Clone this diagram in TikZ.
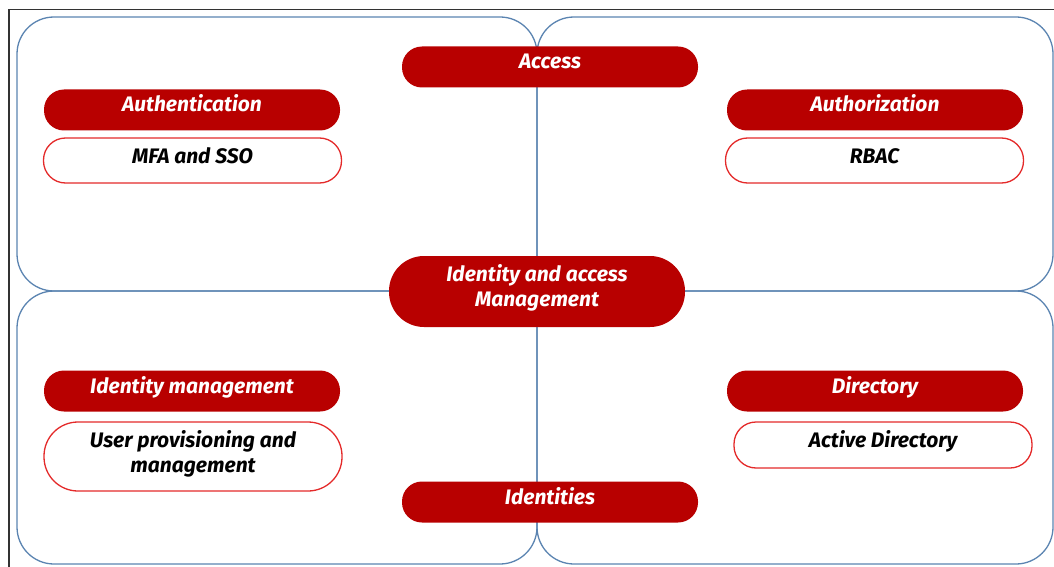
\documentclass[tikz,border=0pt]{standalone}
\usepackage{fontspec}
\setmainfont{Fira Sans}
\usetikzlibrary{positioning}

\definecolor{iamred}{HTML}{B80000}
\definecolor{boxred}{HTML}{E42A2A}
\definecolor{quadblue}{HTML}{5B84B1}

\begin{document}
\begin{tikzpicture}[
    x=1pt, y=-1pt,
    quad/.style={draw=quadblue, line width=1.3pt, rounded corners=37pt, minimum width=520pt, minimum height=274pt, inner sep=0pt},
    head/.style={fill=iamred, rounded corners=20pt, text=white, minimum width=296pt, minimum height=41pt, inner sep=0pt, align=center, text height=14pt, text depth=10pt, font=\fontsize{21}{25}\selectfont\bfseries\itshape},
    item/.style={draw=boxred, line width=1.3pt, fill=white, rounded corners=22pt, minimum width=298pt, minimum height=45pt, inner sep=0pt, align=center, text height=14pt, text depth=9pt, font=\fontsize{21}{25}\selectfont\bfseries\itshape}
]
\useasboundingbox (0,0) rectangle (1054,567);

% outer frame
\draw[line width=1.3pt, black!80] (9,567) |- (1054,9.5);

% Quadrants
\node[quad] (qtl) at (277,154) {};
\node[quad, minimum width=516pt] (qtr) at (795,154) {};
\node[quad, minimum height=273pt] (qbl) at (277,427.5) {};
\node[quad, minimum width=516pt, minimum height=273pt] (qbr) at (795,427.5) {};

% Centre and axis labels
\node[head, rounded corners=35pt, minimum height=71pt, text height=49pt, text depth=20pt] (iam) at (537,291.5) {Identity and access\\Management};
\node[head] (access) at (550,67) {Access};
\node[head] (identities) at (550,502) {Identities};

% Top left: authentication
\node[head] (authn) at (192,110) {Authentication};
\node[item] (mfa) at (192.5,160.5) {MFA and SSO};

% Top right: authorization
\node[head] (authz) at (875,110) {Authorization};
\node[item] (rbac) at (874.5,160.5) {RBAC};

% Bottom left: identity management
\node[head] (idm) at (192,391) {Identity management};
\node[item, rounded corners=34pt, minimum height=69pt, text height=49pt, text depth=18pt] (prov) at (193,456.5) {User provisioning and\\management};

% Bottom right: directory
\node[head] (dir) at (875,391) {Directory};
\node[item, minimum height=46pt] (ad) at (883,445) {Active Directory};

\end{tikzpicture}
\end{document}
